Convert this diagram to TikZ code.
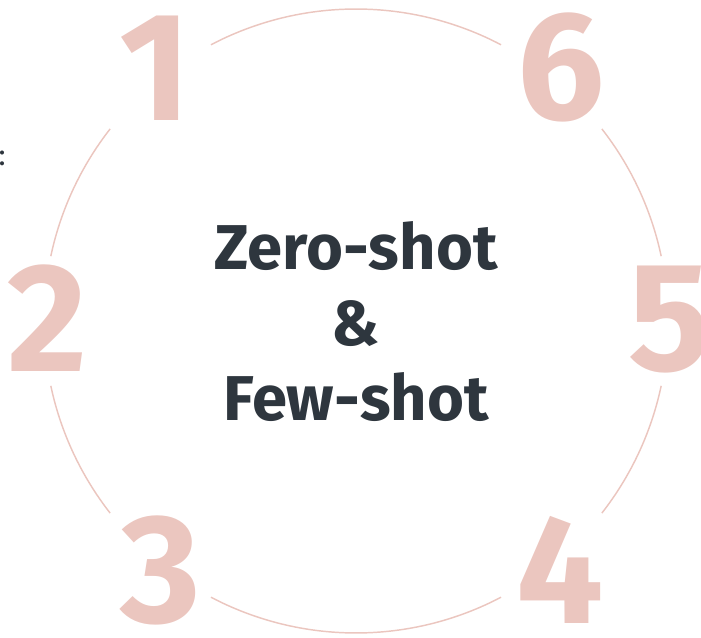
\documentclass[tikz,border=0pt]{standalone}
\usepackage{fontspec}
\setmainfont{Fira Sans}
\usetikzlibrary{positioning}
\definecolor{shotpink}{HTML}{EBC6BF}
\definecolor{shotink}{HTML}{2E363E}
\tikzset{
  num/.style={text=shotpink, font=\fontsize{116}{116}\selectfont\bfseries, inner sep=0pt},
  ring/.style={draw=shotpink, line width=1.1pt},
  title/.style={text=shotink, font=\fontsize{47.5}{56.6}\selectfont\bfseries, align=center},
}
\begin{document}
\begin{tikzpicture}[x=0.75pt,y=0.75pt]
  \clip (0,0) rectangle (701,637);
  \useasboundingbox (0,0) rectangle (701,637);
  \coordinate (hub) at (356,316);
  % ring, broken where the numbers sit
  \foreach \a/\b in {12/38,62.3/117.7,142/168,192/218,242.3/297.7,322/348}
    { \draw[ring] ([shift={(\a:312)}]hub) arc[start angle=\a, end angle=\b, radius=312]; }
  \foreach \n/\px/\py in {1/155/569,2/47/319,3/161/67,4/560/67,5/670/317,6/561/570}
    { \node[num] (d\n) at (\px,\py) {\n}; }
  \node[title] (core) at (356,315) {Zero-shot\\\&\\Few-shot};
  \node[text=shotink, font=\fontsize{22}{22}\selectfont, inner sep=0pt, anchor=east] (cut) at (6,479) {:};
\end{tikzpicture}
\end{document}
